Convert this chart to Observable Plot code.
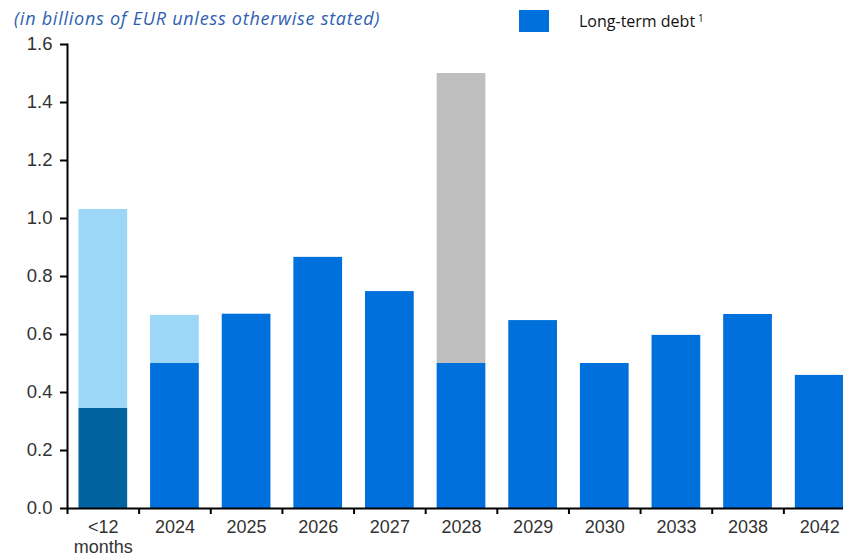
<!DOCTYPE html>
<html>
<head>
<meta charset="utf-8">
<script src="https://cdn.jsdelivr.net/npm/d3@7"></script>
<script src="https://cdn.jsdelivr.net/npm/@observablehq/plot@0.6"></script>
<style>
  html, body { margin: 0; padding: 0; background: #fff; overflow: hidden; }
  #wrap { position: relative; width: 843px; height: 559px; overflow: hidden; }
  #title { position: absolute; left: 14px; top: 9px; font-family: "Open Sans", Lato, sans-serif; font-style: italic; font-size: 18px; letter-spacing: 0.75px; color: #2F5FB3; line-height: 1; white-space: nowrap; }
  #legend { position: absolute; left: 519px; top: 10px; display: flex; align-items: center; font-family: "Open Sans", Lato, sans-serif; font-size: 16px; color: #111; white-space: nowrap; }
  #legend .sw { width: 30px; height: 22px; margin-right: 30px; }
  #legend sup { font-size: 10px; margin-left: 3px; position: relative; top: -3px; }
  #chart { position: absolute; left: 0; top: 0; }
  #chart svg { max-width: none !important; }
</style>
</head>
<body>
<div id="wrap">
  <div id="chart"></div>
  <div id="title">(in billions of EUR unless otherwise stated)</div>
  <div id="legend"><div class="sw" id="sw"></div><span>Long-term debt</span><sup>1</sup></div>
</div>
<script>
// Categories (x tick labels)
const categories = ["<12\nmonths", "2024", "2025", "2026", "2027", "2028", "2029", "2030", "2033", "2038", "2042"];
// Series values (billions of EUR)
const shortTermDark = [0.345, 0, 0, 0, 0, 0, 0, 0, 0, 0, 0];
const longTermDebt  = [0, 0.5, 0.67, 0.866, 0.748, 0.5, 0.648, 0.5, 0.597, 0.669, 0.459];
const lightBlue     = [0.686, 0.166, 0, 0, 0, 0, 0, 0, 0, 0, 0];
const grey          = [0, 0, 0, 0, 0, 1.0, 0, 0, 0, 0, 0];
const yTicks = [0, 0.2, 0.4, 0.6, 0.8, 1.0, 1.2, 1.4, 1.6];

const seriesNames = ["shortDark", "longTerm", "light", "grey"];
const seriesColors = ["#00629F", "#0070DC", "#9DD7F7", "#BFBFBF"];
const seriesValues = [shortTermDark, longTermDebt, lightBlue, grey];

const rows = [];
seriesNames.forEach((s, si) => {
  categories.forEach((c, ci) => {
    rows.push({category: c, series: s, value: seriesValues[si][ci]});
  });
});

document.getElementById("sw").style.background = seriesColors[1];

const W = 855, ML = 67, MR = 0;
const step = (W - ML - MR) / categories.length;
const FONT = "'Liberation Sans', Arial, sans-serif";

const chart = Plot.plot({
  width: W,
  height: 559,
  marginLeft: ML,
  marginRight: MR,
  marginTop: 44,
  marginBottom: 51,
  style: {fontFamily: FONT, fontSize: "18px", color: "#333", background: "white", maxWidth: "none"},
  x: {domain: categories, paddingInner: 0.32, paddingOuter: 0.16, round: false, axis: null, label: null},
  y: {domain: [0, 1.6], axis: null, label: null},
  color: {domain: seriesNames, range: seriesColors},
  marks: [
    Plot.barY(rows, {x: "category", y: "value", fill: "series", order: seriesNames}),
    Plot.axisY({ticks: yTicks, tickFormat: d3.format(".1f"), tickSize: 7, tickPadding: 8, strokeWidth: 2, stroke: "#000", fill: "#333", fontSize: 18.5, fontFamily: FONT, label: null}),
    Plot.axisX({tickSize: 6, tickFormat: () => "", dx: -step / 2, strokeWidth: 2, stroke: "#000", label: null}),
    Plot.text(categories, {x: d => d, text: d => d, frameAnchor: "bottom", lineAnchor: "top", dy: 11, lineHeight: 1.08, fontSize: 18, fontFamily: FONT, fill: "#333"}),
    Plot.ruleY([0], {stroke: "#000", strokeWidth: 2}),
    Plot.frame({anchor: "left", stroke: "#000", strokeWidth: 2})
  ]
});
document.getElementById("chart").appendChild(chart);
</script>
</body>
</html>
